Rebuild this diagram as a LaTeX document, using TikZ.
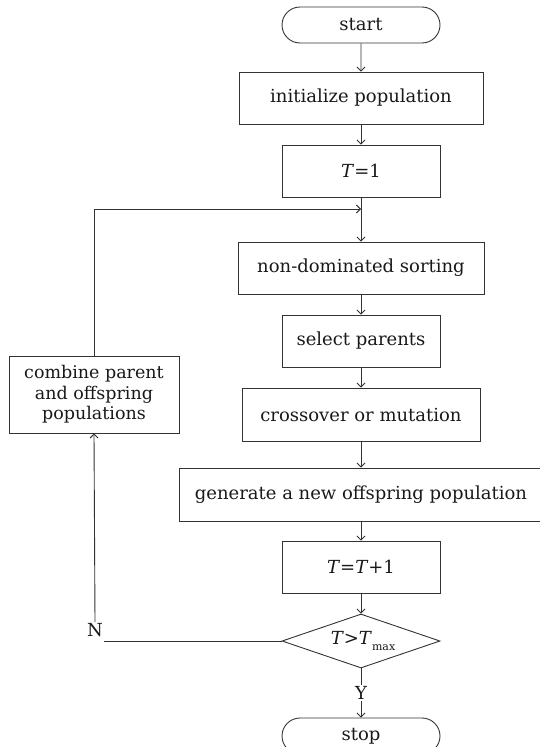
\documentclass[tikz,border=0pt]{standalone}
\usepackage{fontspec}
\setmainfont{DejaVu Serif}
\usetikzlibrary{arrows.meta,shapes.geometric,shapes.misc}
\begin{document}
\begin{tikzpicture}[x=1pt,y=-1pt,
  every node/.style={font=\fontsize{18}{20}\selectfont, text=black!90},
  boxnode/.style={draw=black!80, line width=0.9pt, rectangle, inner sep=0pt, align=center},
  termnode/.style={draw=black!80, line width=0.9pt, rounded rectangle, inner sep=0pt, minimum width=158, minimum height=36},
  decnode/.style={draw=black!80, line width=0.9pt, diamond, inner sep=0pt, minimum width=158, minimum height=54},
  conn/.style={draw=black!80, line width=0.9pt},
  arr/.style={conn, -{Straight Barb[length=4pt,width=8pt]}},
  lbl/.style={inner sep=1pt}]
\useasboundingbox (0,0) rectangle (539,747);
\node[termnode] (start) at (361,25) {start};
\node[boxnode, minimum width=244, minimum height=52] (init) at (361,98) {initialize population};
\node[boxnode, minimum width=158, minimum height=52] (t1) at (361,171) {\textit{T}=1};
\coordinate (merge) at (361,209);
\node[boxnode, minimum width=246, minimum height=52] (nds) at (361,268) {non-dominated sorting};
\node[boxnode, minimum width=158, minimum height=52] (sel) at (361,341) {select parents};
\node[boxnode, minimum width=238, minimum height=53] (cross) at (361,414.5) {crossover or mutation};
\node[boxnode, minimum width=364, minimum height=53] (gen) at (361,494.5) {generate a new offspring population};
\node[boxnode, minimum width=158, minimum height=52] (tinc) at (361,567) {\textit{T}=\textit{T}+1};
\node[decnode, label={[inner sep=0pt, xshift=2pt]center:\textit{T}>\textit{T}\raisebox{-6pt}{\fontsize{11}{12}\selectfont max}}] (dec) at (361,641) {};
\node[termnode] (stop) at (361,736) {stop};
\node[boxnode, minimum width=170, minimum height=77, font=\fontsize{17.5}{20.5}\selectfont] (comb) at (94,394.5) {combine parent\\and offspring\\populations};
\node[lbl] (nlab) at (95,630) {N};
\node[lbl, fill=white] (ylab) at (361,693) {Y};
\coordinate (loopc) at (94,209);
\draw[arr] (start) -- (init);
\draw[arr] (init) -- (t1);
\draw[arr] (t1) -- (nds);
\draw[arr] (comb.north) -- (loopc) -- (merge);
\draw[arr] (nds) -- (sel);
\draw[arr] (sel) -- (cross);
\draw[arr] (cross) -- (gen);
\draw[arr] (gen) -- (tinc);
\draw[arr] (tinc) -- (dec);
\draw[conn] (dec.south) -- (ylab.north);
\draw[arr] (ylab.south) -- (stop.north);
\draw[conn] (dec.west) -- (dec.west -| nlab.east);
\draw[arr] (nlab.north) -- (comb.south);
\end{tikzpicture}
\end{document}
